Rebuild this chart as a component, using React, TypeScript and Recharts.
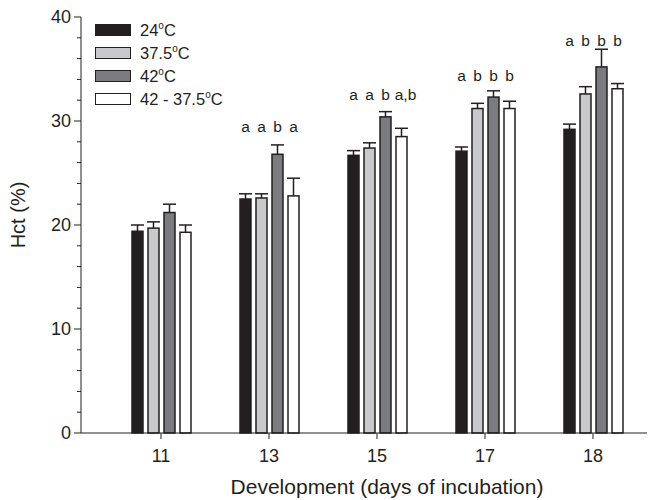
import { Bar, BarChart, LabelList, Legend, XAxis, YAxis } from 'recharts';

const days = ['11', '13', '15', '17', '18'];
const hct24 = [19.4, 22.5, 26.7, 27.1, 29.2];
const hct375 = [19.7, 22.6, 27.4, 31.2, 32.6];
const hct42 = [21.2, 26.8, 30.4, 32.3, 35.2];
const hct42to375 = [19.3, 22.8, 28.5, 31.2, 33.1];
const err24 = [0.6, 0.5, 0.45, 0.4, 0.5];
const err375 = [0.6, 0.4, 0.5, 0.5, 0.7];
const err42 = [0.8, 0.9, 0.5, 0.6, 1.7];
const err42to375 = [0.7, 1.7, 0.8, 0.7, 0.5];
const letters24 = ['', 'a', 'a', 'a', 'a'];
const letters375 = ['', 'a', 'a', 'b', 'b'];
const letters42 = ['', 'b', 'b', 'b', 'b'];
const letters42to375 = ['', 'a', 'a,b', 'b', 'b'];
const letterLevel = [0, 28.9, 32.0, 33.8, 37.2];
const yTicks = [0, 2, 4, 6, 8, 10, 12, 14, 16, 18, 20, 22, 24, 26, 28, 30, 32, 34, 36, 38, 40];

const ink = '#231f20';
const font = '"Liberation Sans", Arial, sans-serif';

const series = [
  { key: 'h24', err: 'e24', lab: 'l24', fill: '#231f20', name: '24' },
  { key: 'h375', err: 'e375', lab: 'l375', fill: '#c8c9cb', name: '37.5' },
  { key: 'h42', err: 'e42', lab: 'l42', fill: '#7b7c7f', name: '42' },
  { key: 'h42to375', err: 'e42to375', lab: 'l42to375', fill: '#ffffff', name: '42 - 37.5' },
];

const data = days.map((d, i) => ({
  day: d,
  h24: hct24[i],
  h375: hct375[i],
  h42: hct42[i],
  h42to375: hct42to375[i],
  e24: err24[i],
  e375: err375[i],
  e42: err42[i],
  e42to375: err42to375[i],
  l24: letters24[i],
  l375: letters375[i],
  l42: letters42[i],
  l42to375: letters42to375[i],
}));

function YTick({ x, y, payload }: any) {
  const major = payload.value % 10 === 0;
  return (
    <g>
      <line x1={x - (major ? 7 : 4)} x2={x} y1={y} y2={y} stroke={ink} strokeWidth={1} />
      {major && (
        <text x={x - 10} y={y} dy={6} textAnchor="end" fontSize={18} fill={ink} fontFamily={font}>
          {payload.value}
        </text>
      )}
    </g>
  );
}

function XTick({ x, y, payload }: any) {
  return (
    <g>
      <line x1={x} x2={x} y1={y} y2={y + 6} stroke={ink} strokeWidth={1} />
      <text x={x} y={y + 29} textAnchor="middle" fontSize={18} fill={ink} fontFamily={font}>
        {payload.value}
      </text>
    </g>
  );
}

// bar with a one-sided (upper) error bar, scaled from the bar's own pixel height
function BarWithErr(props: any) {
  const { x, y, width, height, fill, payload, valueKey, errKey } = props;
  const perUnit = height / payload[valueKey];
  const top = y - payload[errKey] * perUnit;
  const cx = x + width / 2;
  return (
    <g>
      <line x1={cx} x2={cx} y1={y} y2={top} stroke={ink} strokeWidth={1.5} />
      <line x1={cx - 6.5} x2={cx + 6.5} y1={top} y2={top} stroke={ink} strokeWidth={1.5} />
      <rect x={x} y={y} width={width} height={height} fill={fill} stroke={ink} strokeWidth={1.5} />
    </g>
  );
}

function Letter(props: any) {
  const { x, y, width, height, value, index } = props;
  if (!value) return null;
  const row = data[index];
  const barVal = (row as any)[props.seriesKey];
  const perUnit = height / barVal;
  const ly = y + height - letterLevel[index] * perUnit;
  return (
    <text
      x={x + width / 2}
      dx={value.length > 1 ? 4 : 0}
      y={ly}
      textAnchor="middle"
      fontSize={15.5}
      fill={ink}
      fontFamily={font}
    >
      {value}
    </text>
  );
}

function LegendBox() {
  return (
    <div style={{ fontFamily: font, fontSize: 16.5, color: ink }}>
      {series.map((s) => (
        <div key={s.key} style={{ display: 'flex', alignItems: 'center', height: 23 }}>
          <div style={{ width: 34, height: 10, background: s.fill, border: `1.5px solid ${ink}`, marginRight: 9 }} />
          <span>
            {s.name}
            <sup style={{ fontSize: 10 }}>o</sup>C
          </span>
        </div>
      ))}
    </div>
  );
}

export default function App() {
  return (
    <div style={{ position: 'absolute', left: 0, top: 0, width: 654, height: 500, background: '#fff' }}>
      <BarChart
        width={654}
        height={500}
        data={data}
        margin={{ top: 17, right: 7, bottom: 0, left: 0 }}
        barGap={5}
        barSize={11}
      >
        <XAxis
          dataKey="day"
          height={67}
          padding={{ left: 26, right: 0 }}
          axisLine={{ stroke: ink, strokeWidth: 1 }}
          tickLine={false}
          tickSize={0}
          tickMargin={0}
          tick={<XTick />}
          interval={0}
          label={{ value: 'Development (days of incubation)', position: 'insideBottom', offset: 6, dx: 23, fontSize: 21, fill: ink, fontFamily: font }}
        />
        <YAxis
          width={81}
          domain={[0, 40]}
          ticks={yTicks}
          interval={0}
          axisLine={{ stroke: ink, strokeWidth: 1 }}
          tickLine={false}
          tickSize={0}
          tickMargin={0}
          tick={<YTick />}
          label={{ value: 'Hct (%)', angle: -90, position: 'insideLeft', offset: 18, dy: -10, fontSize: 20, fill: ink, fontFamily: font, style: { textAnchor: 'middle' } }}
        />
        <Legend
          verticalAlign="middle"
          align="center"
          layout="vertical"
          content={<LegendBox />}
          wrapperStyle={{ left: 95, top: 18, width: 200 }}
        />
        {series.map((s) => (
          <Bar
            key={s.key}
            dataKey={s.key}
            fill={s.fill}
            stroke={ink}
            strokeWidth={1.5}
            isAnimationActive={false}
            shape={<BarWithErr valueKey={s.key} errKey={s.err} />}
          >
            <LabelList dataKey={s.lab} content={<Letter seriesKey={s.key} />} />
          </Bar>
        ))}
      </BarChart>
    </div>
  );
}
